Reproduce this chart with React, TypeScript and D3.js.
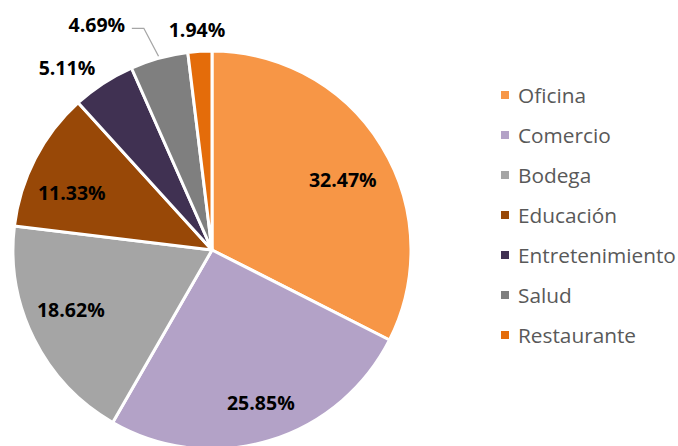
import React from "react";
import * as d3 from "d3";

const categories = ["Oficina", "Comercio", "Bodega", "Educación", "Entretenimiento", "Salud", "Restaurante"];
const values = [32.47, 25.85, 18.62, 11.33, 5.11, 4.69, 1.94];
const labels = ["32.47%", "25.85%", "18.62%", "11.33%", "5.11%", "4.69%", "1.94%"];
const colors = ["#F79646", "#B3A2C7", "#A5A5A5", "#984807", "#403152", "#7F7F7F", "#E46C0A"];

// layout: label radius and nudges (px) for each slice label
const labelRadius = [150, 150, 150, 150, 230, 230, 230];
const labelNudge: [number, number][] = [
  [3, 8.5],
  [6, 9],
  [-7, -7],
  [-7, 12],
  [-19.6, 10.8],
  [-54, -3],
  [-1, 9.5],
];

const W = 678;
const H = 446;
const cx = 212;
const cy = 250;
const R = 199;

export default function App() {
  const pie = d3.pie<number>().sort(null).value((d) => d)(values);
  const arc = d3.arc<d3.PieArcDatum<number>>().innerRadius(0).outerRadius(R);

  const legendY = d3.scalePoint<string>().domain(categories).range([95, 335]);

  const labelPos = pie.map((p, i) => {
    const c = d3
      .arc<d3.PieArcDatum<number>>()
      .innerRadius(labelRadius[i])
      .outerRadius(labelRadius[i])
      .centroid(p);
    return [c[0] + labelNudge[i][0], c[1] + labelNudge[i][1]];
  });

  // leader line for Salud (index 5)
  const s = pie[5];
  const mid = (s.startAngle + s.endAngle) / 2;
  const edge = [(R + 2) * Math.sin(mid), -(R + 2) * Math.cos(mid)];
  const lp = labelPos[5];
  const leader = d3.line()([
    [lp[0] + 35, lp[1] + 3],
    [lp[0] + 47, lp[1] + 3],
    [edge[0], edge[1]],
  ]);

  return (
    <svg
      width={W}
      height={H}
      style={{ position: "absolute", left: 0, top: 0, background: "#fff" }}
      fontFamily="'Open Sans', sans-serif"
    >
      <g transform={`translate(${cx},${cy})`}>
        {pie.map((p, i) => (
          <path key={i} d={arc(p) || ""} fill={colors[i]} stroke="#fff" strokeWidth={3} strokeLinejoin="round" />
        ))}
        <path d={leader || ""} fill="none" stroke="#A6A6A6" strokeWidth={1.3} />
        {pie.map((p, i) => (
          <text
            key={i}
            x={labelPos[i][0]}
            y={labelPos[i][1]}
            dy="0.36em"
            textAnchor="middle"
            fontWeight={700}
            fontSize={19.5}
            fill="#000"
          >
            {labels[i]}
          </text>
        ))}
      </g>
      <g>
        {categories.map((c, i) => (
          <g key={c} transform={`translate(0,${legendY(c)})`}>
            <rect x={501} y={-4} width={8} height={8} fill={colors[i]} />
            <text x={518} y={0} dy="0.36em" fontSize={20.8} fill="#595959">
              {c}
            </text>
          </g>
        ))}
      </g>
    </svg>
  );
}
